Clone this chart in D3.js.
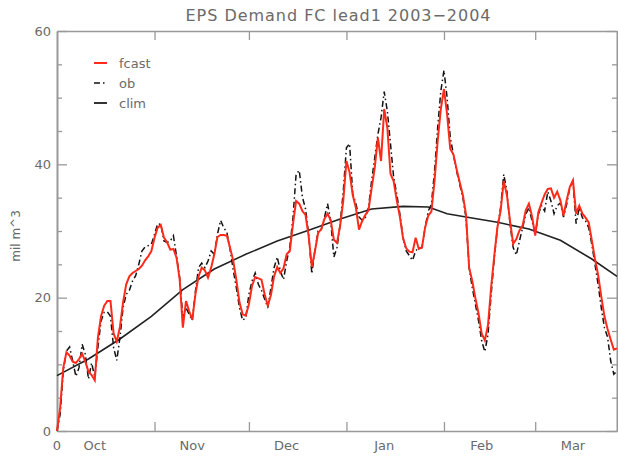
<!DOCTYPE html>
<html>
<head>
<meta charset="utf-8">
<script src="https://cdn.jsdelivr.net/npm/d3@7"></script>
<style>
  body { margin: 0; background: #fff; }
  text { font-family: "DejaVu Sans", sans-serif; fill: #6a6a6a; }
</style>
</head>
<body>
<svg id="chart"></svg>
<script>
// daily values, day 0 = 1 Oct 2003
var fcast = [0, 3.5, 9.5, 11.8, 11.3, 10.4, 10.2, 10.8, 11.6, 10.4,
  8.9, 8.4, 7.6, 14, 17.2, 18.8, 19.5, 19.5, 14.6, 13.4,
  15.6, 19.3, 22, 23.2, 23.7, 24, 24.3, 24.8, 25.6, 26.2,
  27, 29, 30.5, 30.9, 29, 28.3, 27.2, 27.3, 26, 22.7,
  15.5, 19.5, 18, 16.7, 20.5, 23.2, 24.5, 24.1, 23, 24.5,
  26.5, 29.1, 29.4, 29.4, 29.3, 27.5, 25.6, 22.7, 19.3, 17.5,
  17.3, 19, 21.8, 23.1, 22.9, 22.7, 20.5, 18.8, 20.4, 23.2,
  24.6, 23.7, 24.4, 26.5, 27, 31, 34.5, 34.1, 33, 32.4,
  29.2, 24.6, 27, 29.7, 30.3, 31.8, 32.6, 31.6, 28.7, 28.2,
  30.8, 34.6, 40.5, 38.8, 35.4, 33.5, 30.2, 31.5, 32.4, 33.1,
  36.4, 39.5, 44, 40.5, 48.3, 45.5, 38.6, 37.5, 34.6, 32.1,
  28.9, 27.4, 26.9, 26.8, 29, 27.3, 27.5, 30.5, 32.3, 32.9,
  37.5, 43.5, 48.3, 51.3, 47.5, 42.3, 41.5, 39.3, 37.3, 35.4,
  32.5, 24.5, 22.5, 19.9, 17.6, 14.6, 13.6, 15.9, 21.6, 26.3,
  30.6, 33, 37.5, 35.4, 31.5, 28.1, 28.8, 30.1, 30.8, 33.1,
  34.1, 32.2, 29.3, 32.8, 34.2, 35.5, 36.3, 36.4, 35, 35.9,
  34.6, 32.3, 34.6, 36.6, 37.6, 32.6, 33.8, 32.6, 32, 31.3,
  28.6, 25.8, 23.4, 20.2, 17.2, 15.3, 13.7, 12.2, 12.4];

var ob = [0, 2.5, 9, 12, 12.6, 10.5, 8.2, 9.5, 13, 11.5,
  7.8, 10.2, 8.1, 12.5, 16.5, 17.8, 17.9, 17.2, 12.5, 10.6,
  14, 18.5, 20.5, 21.1, 22.5, 23.3, 25, 27, 27.6, 27.8,
  28, 29.5, 31.1, 31, 28.5, 28.3, 28.5, 29.3, 26.2, 23,
  17, 18.5, 17.5, 16.6, 21, 24.5, 25.2, 24.5, 25.5, 27,
  26.5, 29.5, 31.6, 30.5, 29.8, 27.3, 24.2, 21.5, 18.5, 16.6,
  17, 20.5, 22.5, 23.7, 22, 21.1, 19.8, 18.5, 21.5, 24.5,
  26.1, 24, 22.7, 25.5, 27.6, 32, 38.5, 39.1, 35.1, 33.3,
  29.5, 23.6, 27.2, 30, 30.2, 32, 34.1, 31.5, 26.1, 27.5,
  31, 36, 42.5, 43.1, 35.6, 34.1, 32.1, 31.6, 32, 33.5,
  37.5, 41, 44.5, 47, 50.9, 48, 43.1, 38.1, 35.5, 32.5,
  29, 27, 26.3, 25.6, 27, 27.5, 27.5, 30.5, 33, 34,
  39, 45.5, 51, 54.1, 50, 44, 41.5, 39, 37, 35,
  32, 24.5, 21.5, 19, 16.5, 13.5, 11.9, 14.5, 20.5, 26,
  30.5, 33.5, 38.5, 36, 31, 27.5, 26.4, 28.5, 30.5, 32.5,
  33.5, 31.5, 29.5, 32.5, 33.8, 33, 35.9, 34.5, 32.6, 33.8,
  34.2, 32.1, 34, 36.5, 37.6, 31.1, 33.5, 32, 31.5, 30.5,
  28, 25, 22, 18.5, 15.5, 14.1, 10.5, 8.5, 9];

var climDays = [0, 10, 20, 30, 40, 50, 60, 70, 80, 90, 100, 110, 118, 124, 130, 140, 150, 160, 170, 178];
var clim = [8.3, 10.8, 13.8, 17.2, 21.2, 24.3, 26.5, 28.5, 30.1, 31.8, 33.3, 33.7, 33.6, 32.6, 32.1, 31.3, 30.3, 28.6, 25.8, 23.2];

var monthStarts = [31, 61, 92, 123, 152];
var monthLabelDays = [12, 43, 73, 104, 135, 164];
var monthNames = ["Oct", "Nov", "Dec", "Jan", "Feb", "Mar"];
var yMajor = [0, 20, 40, 60];
var seriesNames = ["fcast", "ob", "clim"];

var svgWidth = 618, svgHeight = 461;
var plotLeft = 57, plotRight = 617, plotTop = 31, plotBottom = 431;

var svg = d3.select("#chart").attr("width", svgWidth).attr("height", svgHeight);

var x = d3.scaleLinear().domain([0, 178]).range([plotLeft, plotRight]);
var y = d3.scaleLinear().domain([0, 60]).range([plotBottom, plotTop]);

var axisColor = "#999";
var yMinor = d3.range(5, 60, 5).filter(function (v) { return v % 20 != 0; });

// axes
function styleAxis(g) {
    g.select(".domain").attr("stroke", axisColor).attr("stroke-width", 1.6);
    g.selectAll(".tick line").attr("stroke", axisColor).attr("stroke-width", 1.3);
    g.selectAll(".tick text").style("font-size", "13px").style("fill", "#6a6a6a");
}

svg.append("g").attr("transform", "translate(0," + plotBottom + ")")
    .call(d3.axisBottom(x).tickValues(monthStarts).tickSize(-9).tickSizeOuter(0).tickFormat(""))
    .call(styleAxis);
svg.append("g").attr("transform", "translate(0," + plotTop + ")")
    .call(d3.axisTop(x).tickValues(monthStarts).tickSize(-9).tickSizeOuter(0).tickFormat(""))
    .call(styleAxis);

svg.append("g").attr("transform", "translate(" + plotLeft + ",0)")
    .call(d3.axisLeft(y).tickValues(yMinor).tickSize(-5).tickSizeOuter(0).tickFormat(""))
    .call(styleAxis);
svg.append("g").attr("transform", "translate(" + plotLeft + ",0)")
    .call(d3.axisLeft(y).tickValues(yMajor).tickSize(-10).tickSizeOuter(0).tickPadding(6).tickFormat(d3.format("d")))
    .call(styleAxis);
svg.append("g").attr("transform", "translate(" + plotRight + ",0)")
    .call(d3.axisRight(y).tickValues(yMinor).tickSize(-5).tickSizeOuter(0).tickFormat(""))
    .call(styleAxis);
svg.append("g").attr("transform", "translate(" + plotRight + ",0)")
    .call(d3.axisRight(y).tickValues(yMajor).tickSize(-10).tickSizeOuter(0).tickFormat(""))
    .call(styleAxis);

// x labels
svg.append("text").attr("x", x(0)).attr("y", plotBottom + 19)
    .attr("text-anchor", "middle").style("font-size", "13px").text("0");
svg.selectAll(".month").data(monthNames).enter().append("text")
    .attr("class", "month")
    .attr("x", function (d, i) { return x(monthLabelDays[i]); })
    .attr("y", plotBottom + 19)
    .attr("text-anchor", "middle")
    .style("font-size", "13px")
    .text(function (d) { return d; });

// title and y label
svg.append("text").attr("x", 338).attr("y", 21).attr("text-anchor", "middle")
    .style("font-size", "16px").attr("textLength", 305).text("EPS Demand FC lead1 2003\u22122004");
svg.append("text").attr("transform", "translate(20,236) rotate(-90)").attr("text-anchor", "middle")
    .style("font-size", "12px").text("mil m^3");

// lines
var line = d3.line().x(function (d) { return x(d[0]); }).y(function (d) { return y(d[1]); });
var climPts = climDays.map(function (d, i) { return [d, clim[i]]; });
var obPts = ob.map(function (v, i) { return [i, v]; });
var fcPts = fcast.map(function (v, i) { return [i, v]; });

svg.append("path").datum(climPts).attr("d", line)
    .attr("fill", "none").attr("stroke", "#222").attr("stroke-width", 1.6);
svg.append("path").datum(obPts).attr("d", line)
    .attr("fill", "none").attr("stroke", "#111").attr("stroke-width", 1.5)
    .attr("stroke-dasharray", "6,3,1.5,3");
svg.append("path").datum(fcPts).attr("d", line)
    .attr("fill", "none").attr("stroke", "#ff2a1a").attr("stroke-width", 2);

// legend
var legStyles = [
    { stroke: "#ff2a1a", dash: null, w: 2 },
    { stroke: "#111", dash: "6,3,1.5,3", w: 1.5 },
    { stroke: "#333", dash: null, w: 2 }
];
var leg = svg.selectAll(".leg").data(seriesNames).enter().append("g")
    .attr("class", "leg")
    .attr("transform", function (d, i) { return "translate(94," + (63 + i * 20) + ")"; });
leg.append("line").attr("x1", 0).attr("x2", 13).attr("y1", 0).attr("y2", 0)
    .attr("stroke", function (d, i) { return legStyles[i].stroke; })
    .attr("stroke-width", function (d, i) { return legStyles[i].w; })
    .attr("stroke-dasharray", function (d, i) { return legStyles[i].dash; });
leg.append("text").attr("x", 25).attr("y", 5).style("font-size", "13px").text(function (d) { return d; });
</script>
</body>
</html>
